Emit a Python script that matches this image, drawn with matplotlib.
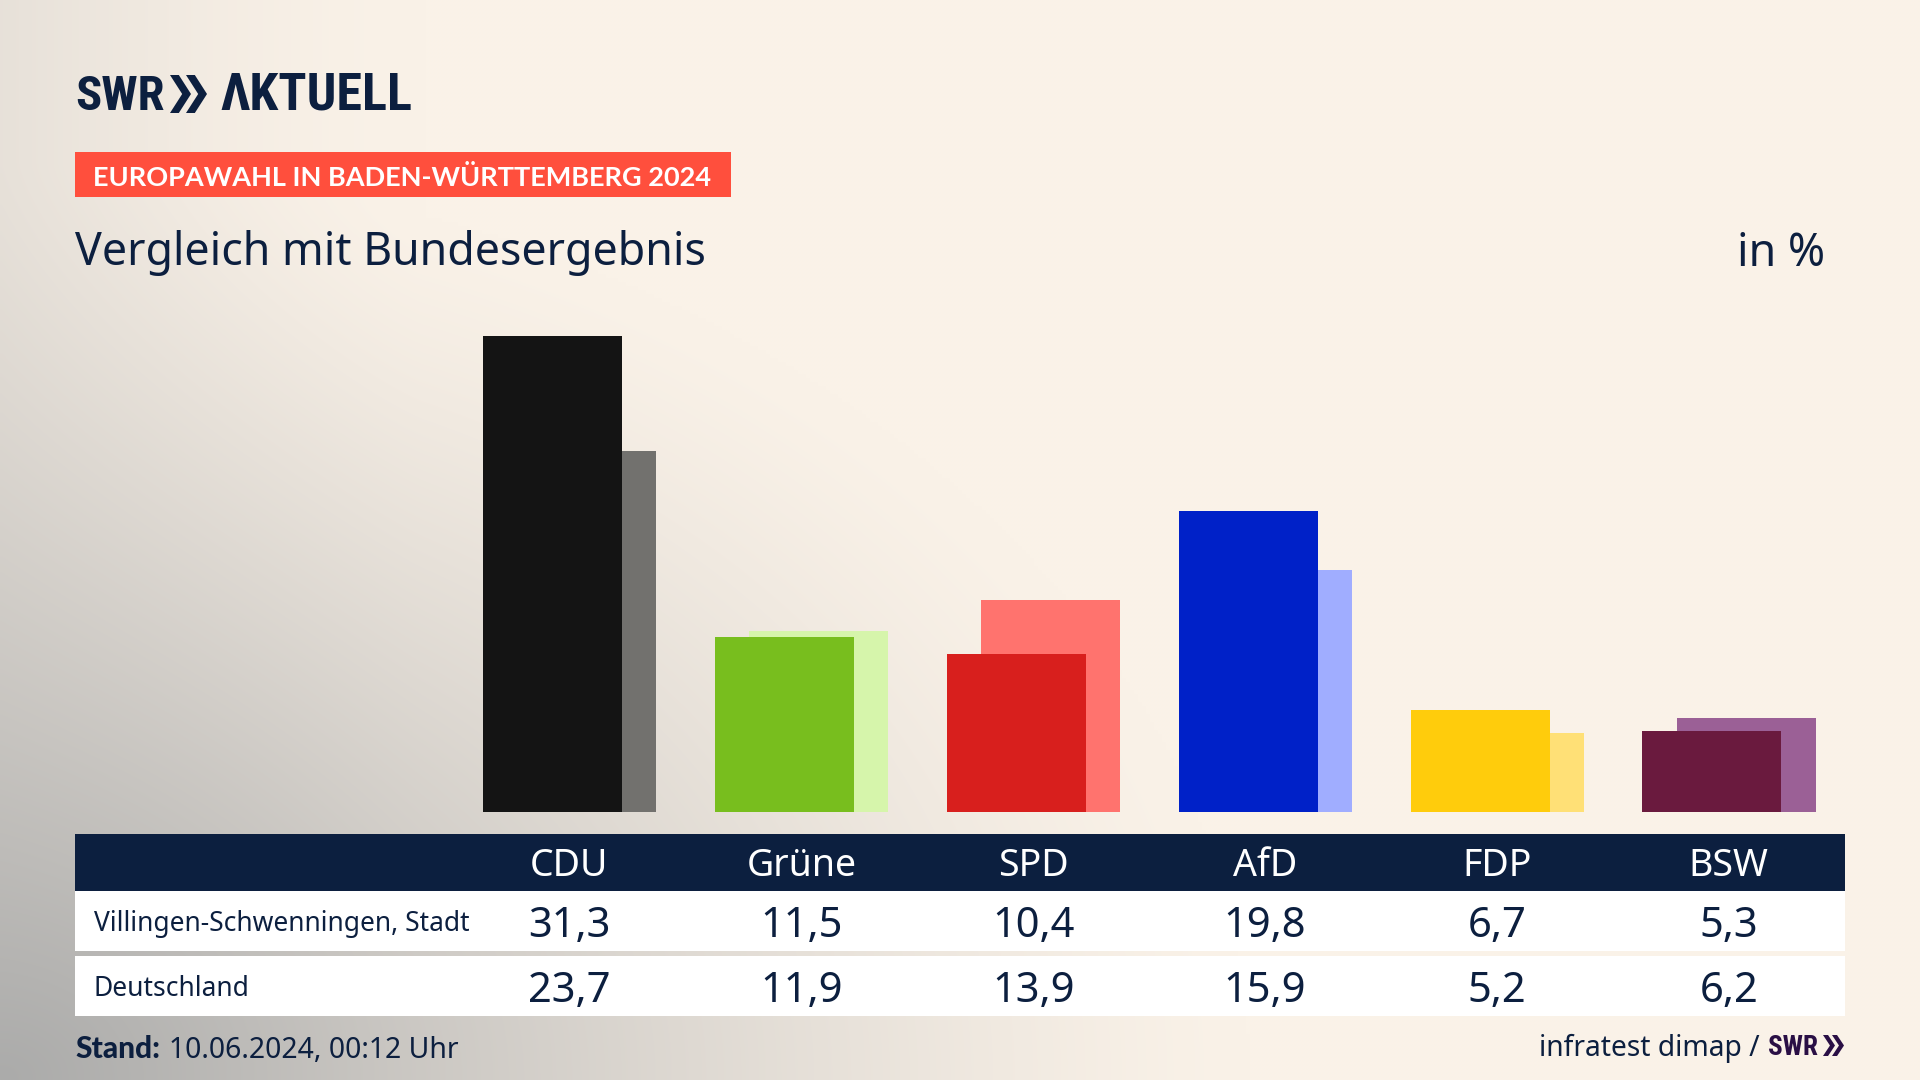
import numpy as np
import matplotlib
matplotlib.use("Agg")
import matplotlib.pyplot as plt
from matplotlib.colors import to_rgb
from matplotlib.patches import Rectangle, Polygon

parties = ["CDU", "Grüne", "SPD", "AfD", "FDP", "BSW"]
region_name = "Villingen-Schwenningen, Stadt"
country_name = "Deutschland"
region_values = [31.3, 11.5, 10.4, 19.8, 6.7, 5.3]
country_values = [23.7, 11.9, 13.9, 15.9, 5.2, 6.2]
region_colors = ["#141414", "#78BE1E", "#D81F1D", "#0021C8", "#FFCC0C", "#6A1A3E"]
country_colors = ["#72716E", "#D6F5AB", "#FF736E", "#A0ADFF", "#FFE076", "#9B6096"]

NAVY = "#0C1F3F"
FONT = "Noto Sans"
W, H = 1920, 1080
fig = plt.figure(figsize=(19.2, 10.8), dpi=100)

# overlay in pixel coordinates
ov = fig.add_axes([0, 0, 1, 1])
ov.set_xlim(0, W); ov.set_ylim(H, 0); ov.axis("off")

# background gradient
u, v = np.meshgrid(np.linspace(0, 1, 480), np.linspace(0, 1, 270))
d = np.sqrt((u / 0.65) ** 2 + ((1 - v) / 0.85) ** 2)
t1 = np.clip(1 - d, 0, 1) ** 1.3
t2 = 0.24 * np.clip(1 - u / 0.22, 0, 1) ** 1.5
t = np.clip(t1 + t2 * (1 - t1), 0, 1)
c0, c1 = np.array(to_rgb("#FAF2E8")), np.array(to_rgb("#ABABAA"))
img = c0[None, None, :] * (1 - t[..., None]) + c1[None, None, :] * t[..., None]
ov.imshow(img, extent=(0, W, H, 0), aspect="auto", zorder=0, interpolation="bilinear")
ov.set_xlim(0, W); ov.set_ylim(H, 0)

def chevrons(x0, y0, y1, w, gap, color):
    for k in range(2):
        xs = x0 + k * gap
        m = (y0 + y1) / 2
        ov.add_patch(Polygon([(xs, y0), (xs + w * 0.42, y0), (xs + w, m),
                              (xs + w * 0.42, y1), (xs, y1), (xs + w * 0.58, m)],
                             closed=True, fc=color, ec="none", zorder=3))

# logo
LOGO = ["Roboto Condensed", "Lato"]
ov.text(75, 110, "SWR", family=LOGO, weight="black", fontsize=35, color=NAVY, va="baseline", ha="left", zorder=3)
chevrons(170, 75, 113, 21, 16, NAVY)
ov.text(220, 110, "ΛKTUELL", family=LOGO, weight="black", fontsize=37.5, color=NAVY, va="baseline", ha="left", zorder=3)

# label
ov.add_patch(Rectangle((75, 152), 656, 45, fc="#FF4F3D", ec="none", zorder=2))
ov.text(93, 175, "EUROPAWAHL IN BADEN-WÜRTTEMBERG 2024", family="Lato", weight="bold", fontsize=19.5,
        color="white", va="center_baseline", ha="left", zorder=3)

ov.text(75, 248, "Vergleich mit Bundesergebnis", family=FONT, fontsize=32.2, color=NAVY,
        va="center_baseline", ha="left", zorder=3)
ov.text(1825, 248, "in %", family=FONT, fontsize=32.2, color=NAVY, va="center_baseline", ha="right", zorder=3)

# table
ov.add_patch(Rectangle((75, 834), 1770, 57, fc=NAVY, ec="none", zorder=2))
ov.add_patch(Rectangle((75, 891), 1770, 60, fc="white", ec="none", zorder=2))
ov.add_patch(Rectangle((75, 956), 1770, 60, fc="white", ec="none", zorder=2))
ov.text(94, 920, region_name, family=FONT, fontsize=19, color=NAVY, va="center_baseline", ha="left", zorder=3)
ov.text(94, 985, country_name, family=FONT, fontsize=19, color=NAVY, va="center_baseline", ha="left", zorder=3)

CX0, DX = 569.5, 231.85
def cell(v):
    return f"{v:.1f}".replace(".", ",")
for i, p in enumerate(parties):
    x = CX0 + DX * i
    ov.text(x, 862, p, family=FONT, fontsize=27, color="white", va="center_baseline", ha="center", zorder=3)
    ov.text(x, 921, cell(region_values[i]), family=FONT, fontsize=30, color=NAVY, va="center_baseline", ha="center", zorder=3)
    ov.text(x, 986, cell(country_values[i]), family=FONT, fontsize=30, color=NAVY, va="center_baseline", ha="center", zorder=3)

# footer
ov.text(75, 1047, "Stand:", family="Lato", weight="black", fontsize=21.5, color=NAVY, va="center_baseline", ha="left", zorder=3)
ov.text(169, 1047, "10.06.2024, 00:12 Uhr", family=FONT, fontsize=20.4, color=NAVY, va="center_baseline", ha="left", zorder=3)
ov.text(1760, 1045, "infratest dimap /", family=FONT, fontsize=20.3, color=NAVY, va="center_baseline", ha="right", zorder=3)
ov.text(1768, 1055, "SWR", family=LOGO, weight="black", fontsize=19.5, color="#2A0F45", va="baseline", ha="left", zorder=3)
chevrons(1823, 1035, 1056, 12, 9, "#2A0F45")

# bars
L, R = 75, 1845
base, ppu = 812, 15.22
ytop = 35
bx = fig.add_axes([L / W, 1 - base / H, (R - L) / W, ytop * ppu / H])
bx.patch.set_alpha(0)
bx.set_xlim((L - CX0) / DX, (R - CX0) / DX)
bx.set_ylim(0, ytop)
bx.axis("off")
xp = np.arange(len(parties))
bw = 139 / DX
bx.bar(xp + 17.3 / DX, country_values, width=bw, color=country_colors, zorder=1)
bx.bar(xp - 16.8 / DX, region_values, width=bw, color=region_colors, zorder=2)

fig.savefig("out.png", dpi=100)
